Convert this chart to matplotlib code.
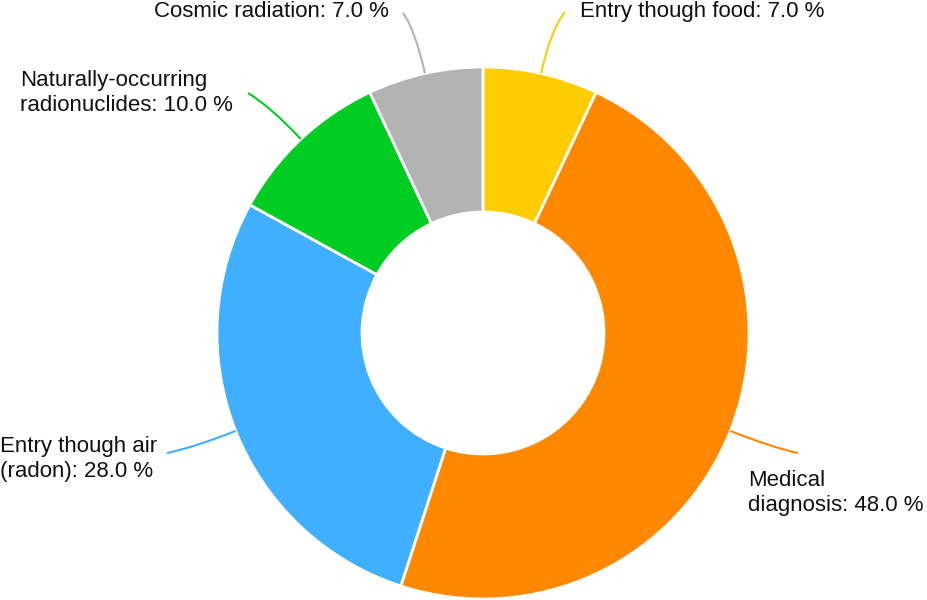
import numpy as np
import matplotlib
matplotlib.use("Agg")
from matplotlib import pyplot as plt
from matplotlib.path import Path
from matplotlib.patches import PathPatch

labels = ["Entry though food", "Medical\ndiagnosis", "Entry though air\n(radon)",
          "Naturally-occurring\nradionuclides", "Cosmic radiation"]
values = [7.0, 48.0, 28.0, 10.0, 7.0]
colors = ["#FFCC00", "#FF8800", "#40AFFF", "#00CC22", "#B3B3B3"]

W, H = 928, 600
cx, cy = 483, H - 333
r_out, r_in = 266, 121

# label placement in pixels (x, y from top), alignment, leader end
label_pos = [(580, 11, "left"), (748, 493, "left"), (0, 459, "left"),
             (20, 93, "left"), (389, 11, "right")]
leader_end = [(565, 12), (798, 453), (167, 453), (248, 93), (403, 13)]

plt.rcParams['font.family'] = ['Liberation Sans', 'DejaVu Sans']
fig = plt.figure(figsize=(W / 100, H / 100), dpi=100)
ax = fig.add_axes([0, 0, 1, 1])
ax.set_xlim(0, W)
ax.set_ylim(0, H)
ax.set_aspect("equal")
ax.axis("off")

wedges, _ = ax.pie(values, colors=colors, startangle=90, counterclock=False,
                   radius=r_out, center=(cx, cy),
                   wedgeprops=dict(width=r_out - r_in, edgecolor="white", linewidth=2))
ax.set_xlim(0, W)
ax.set_ylim(0, H)

for w, lab, v, c, (lx, ly, ha), (ex, ey) in zip(wedges, labels, values, colors, label_pos, leader_end):
    mid = np.deg2rad((w.theta1 + w.theta2) / 2)
    sx, sy = cx + r_out * np.cos(mid), cy + r_out * np.sin(mid)
    kx, ky = cx + (r_out + 45) * np.cos(mid), cy + (r_out + 45) * np.sin(mid)
    path = Path([(sx, sy), (kx, ky), (ex, H - ey)], [Path.MOVETO, Path.CURVE3, Path.CURVE3])
    ax.add_patch(PathPatch(path, facecolor="none", edgecolor=c, linewidth=1.5))
    ax.text(lx, H - ly, f"{lab}: {v:.1f} %", ha=ha, va="center", fontsize=16,
            linespacing=1.2, color="#111111")

fig.savefig("out.png", dpi=100)
